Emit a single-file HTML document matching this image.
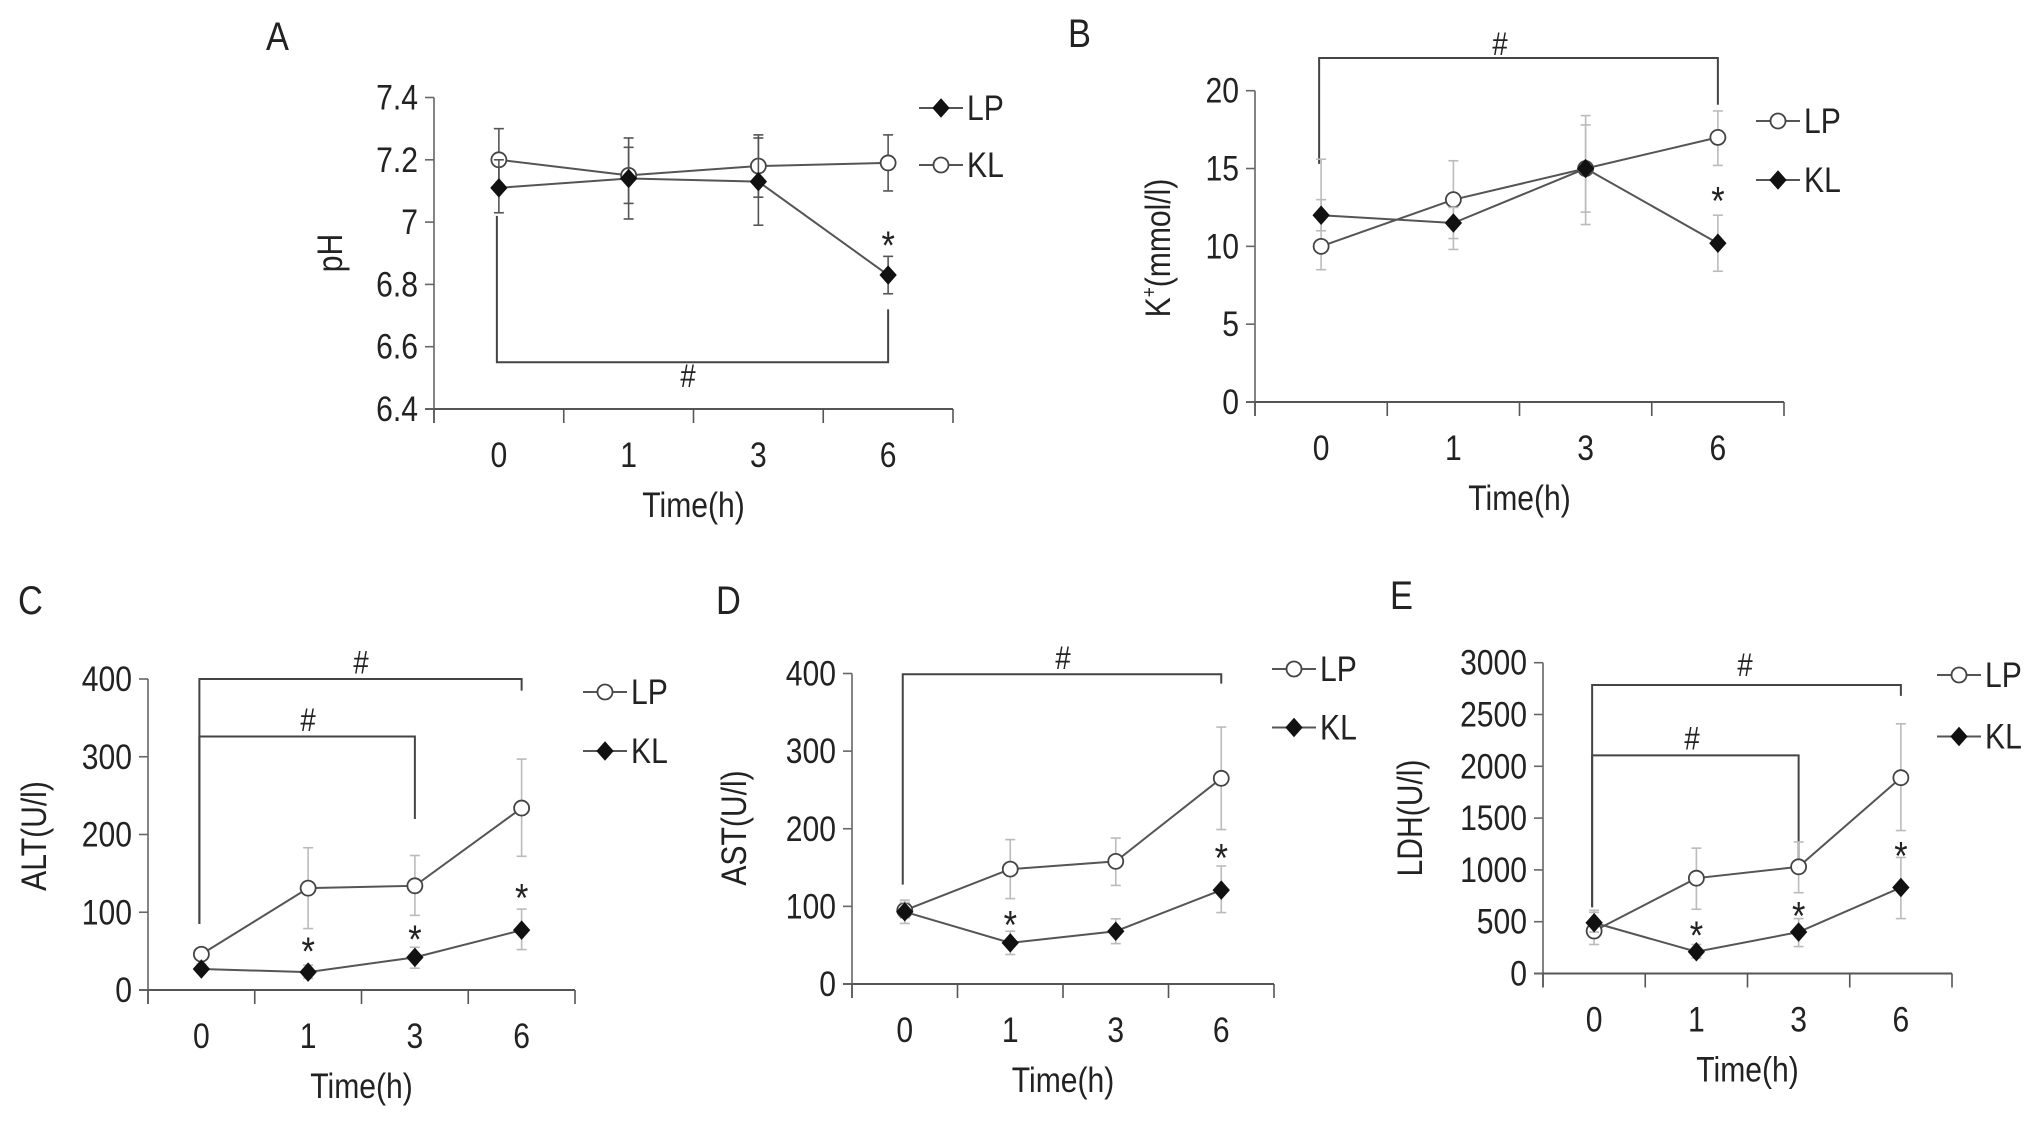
<!DOCTYPE html>
<html><head><meta charset="utf-8"><style>
html,body{margin:0;padding:0;background:#fff;}
svg{display:block;}
text{font-family:"Liberation Sans",sans-serif;fill:#222;}
</style></head><body>
<svg id="fig" width="2031" height="1122" viewBox="0 0 2031 1122" xmlns="http://www.w3.org/2000/svg"></svg>
<script>
const categories = ["0","1","3","6"];
// Panel A (pH)
const aLP = [7.11, 7.14, 7.13, 6.83];
const aLPlo = [7.03, 7.06, 7.08, 6.77];
const aLPhi = [7.20, 7.24, 7.27, 6.89];
const aKL = [7.20, 7.15, 7.18, 7.19];
const aKLlo = [7.10, 7.01, 6.99, 7.10];
const aKLhi = [7.30, 7.27, 7.28, 7.28];
const aTicks = [6.4, 6.6, 6.8, 7, 7.2, 7.4];
const aTickLabels = ["6.4","6.6","6.8","7","7.2","7.4"];
// Panel B (K+)
const bLP = [10, 13, 15, 17];
const bLPlo = [8.5, 9.8, 11.4, 15.2];
const bLPhi = [15.6, 15.5, 18.4, 18.7];
const bKL = [12, 11.5, 15, 10.2];
const bKLlo = [11, 10.5, 12.2, 8.4];
const bKLhi = [13, 12.5, 17.8, 12];
const bTicks = [0, 5, 10, 15, 20];
// Panel C (ALT)
const cLP = [46, 131, 134, 234];
const cLPlo = [40, 79, 96, 172];
const cLPhi = [52, 183, 173, 297];
const cKL = [27, 23, 42, 77];
const cKLlo = [22, 15, 28, 52];
const cKLhi = [33, 32, 55, 104];
const cTicks = [0, 100, 200, 300, 400];
// Panel D (AST)
const dLP = [95, 148, 158, 265];
const dLPlo = [85, 110, 127, 199];
const dLPhi = [108, 186, 188, 331];
const dKL = [93, 53, 68, 121];
const dKLlo = [78, 38, 52, 92];
const dKLhi = [105, 68, 84, 152];
const dTicks = [0, 100, 200, 300, 400];
// Panel E (LDH)
const eLP = [410, 920, 1030, 1890];
const eLPlo = [280, 620, 780, 1380];
const eLPhi = [610, 1210, 1270, 2410];
const eKL = [490, 210, 400, 830];
const eKLlo = [400, 150, 260, 530];
const eKLhi = [590, 280, 530, 1120];
const eTicks = [0, 500, 1000, 1500, 2000, 2500, 3000];

const NS = "http://www.w3.org/2000/svg";
const svg = document.getElementById('fig');
function mk(tag, attrs, parent){
  const e = document.createElementNS(NS, tag);
  for (const k in attrs) e.setAttribute(k, attrs[k]);
  (parent||svg).appendChild(e);
  return e;
}
function txt(parent, x, y, s, size, anchor, rot){
  const tr = rot ? `translate(${x},${y}) rotate(-90) scale(0.86,1)` : `translate(${x},${y}) scale(0.86,1)`;
  const t = mk('text', {x:0, y:0, 'font-size':size, 'text-anchor':anchor||'middle', transform:tr}, parent);
  t.textContent = s;
  return t;
}
function diamond(g, x, y){
  return mk('path', {d:`M${x},${y-9} L${x+8},${y} L${x},${y+9} L${x-8},${y} Z`, fill:'#111', stroke:'#111','stroke-width':1}, g);
}
function circ(g, x, y){
  return mk('circle', {cx:x, cy:y, r:7.5, fill:'#fff', stroke:'#444','stroke-width':1.8}, g);
}

function panel(cfg){
  const g = mk('g', {});
  
  
  const X0 = cfg.ax, X1 = cfg.xEnd, yTop = cfg.yTop, yBot = cfg.yBot;
  const ymin = cfg.ticks[0], ymax = cfg.ticks[cfg.ticks.length-1];
  const yS = v => yBot - (v - ymin) / (ymax - ymin) * (yBot - yTop);
  const step = (X1 - X0) / categories.length;
  const xS = i => X0 + (i + 0.5) * step;
  const L = txt(g, cfg.letter[0], cfg.letter[1], cfg.letter[2], 40, 'start');
  
  
  const ya = mk('line', {x1:X0, y1:yTop, x2:X0, y2:yBot+14, stroke:'#666','stroke-width':1.6}, g);
  
  
  const xa = mk('line', {x1:X0-9, y1:yBot, x2:X1, y2:yBot, stroke:'#555','stroke-width':2}, g);
  
  
  cfg.ticks.forEach((t, i) => {
    mk('line', {x1:X0-9, y1:yS(t), x2:X0, y2:yS(t), stroke:'#666','stroke-width':1.6}, g);
    const tl = txt(g, X0-16, yS(t)+12, cfg.tickLabels ? cfg.tickLabels[i] : String(t), 35, 'end');
    
    
  });
  for (let i = 0; i <= categories.length; i++) {
    mk('line', {x1:X0+i*step, y1:yBot, x2:X0+i*step, y2:yBot+14, stroke:'#555','stroke-width':1.6}, g);
  }
  categories.forEach((c, i) => {
    const tl = txt(g, xS(i), yBot+58, c, 35);
    
    
  });
  const xt = txt(g, (X0+X1)/2, yBot+108, 'Time(h)', 35);
  
  
  const yt = txt(g, cfg.ylabX, cfg.ylabY, cfg.ylabel, 35, 'middle', true);
  if (cfg.sup) { yt.textContent = ''; const a = mk('tspan', {}, yt); a.textContent='K'; const b = mk('tspan', {'font-size':20, dy:-14}, yt); b.textContent='+'; const c = mk('tspan', {dy:14}, yt); c.textContent='(mmol/l)'; }
  
  
  cfg.brackets.forEach(b => {
    const x0 = xS(0) - 2, x1 = xS(b.to);
    const p = mk('path', {d:`M${x0},${yS(b.leftEnd)} L${x0},${yS(b.level)} L${x1},${yS(b.level)} L${x1},${yS(b.rightEnd)}`, fill:'none', stroke:'#444','stroke-width':2}, g);
    
    
    const h = txt(g, b.hx, yS(b.hy), '#', 32);
    
    
  });
  const ebColor = cfg.ebColor;
  function series(vals, lo, hi, kind, name){
    const sg = mk('g', {}, g);
    
    
    vals.forEach((v, i) => {
      const x = xS(i);
      mk('line', {x1:x, y1:yS(lo[i]), x2:x, y2:yS(hi[i]), stroke:ebColor,'stroke-width':1.6}, sg);
      mk('line', {x1:x-5, y1:yS(lo[i]), x2:x+5, y2:yS(lo[i]), stroke:ebColor,'stroke-width':1.6}, sg);
      mk('line', {x1:x-5, y1:yS(hi[i]), x2:x+5, y2:yS(hi[i]), stroke:ebColor,'stroke-width':1.6}, sg);
    });
    const pts = vals.map((v, i) => `${xS(i)},${yS(v)}`).join(' ');
    mk('polyline', {points:pts, fill:'none', stroke:'#555','stroke-width':2}, sg);
    vals.forEach((v, i) => {
      const m = kind === 'd' ? diamond(sg, xS(i), yS(v)) : circ(sg, xS(i), yS(v));
      
      
    });
  }
  series(cfg.circ.v, cfg.circ.lo, cfg.circ.hi, 'c', 'series-' + cfg.circ.name);
  series(cfg.dia.v, cfg.dia.lo, cfg.dia.hi, 'd', 'series-' + cfg.dia.name);
  cfg.stars.forEach(s => {
    const st = txt(g, xS(s[0]), yS(s[1]) + 18, '*', 40);
    
    
  });
  cfg.legend.forEach(l => {
    const lg = mk('g', {}, g);
    
    
    mk('line', {x1:l.x, y1:l.y, x2:l.x+44, y2:l.y, stroke:'#555','stroke-width':2}, lg);
    if (l.kind === 'd') diamond(lg, l.x+22, l.y); else circ(lg, l.x+22, l.y);
    txt(lg, l.x+48, l.y+12, l.label, 35, 'start');
  });
}

panel({name:'panel-a-ph', ax:434, xEnd:953, yTop:97.5, yBot:409, ticks:aTicks, tickLabels:aTickLabels,
  letter:[266,50,'A'], ylabel:'pH', ylabX:342, ylabY:253, ebColor:'#555',
  circ:{v:aKL, lo:aKLlo, hi:aKLhi, name:'kl'}, dia:{v:aLP, lo:aLPlo, hi:aLPhi, name:'lp'},
  brackets:[{to:3, level:6.55, leftEnd:7.02, rightEnd:6.72, hx:688, hy:6.47}],
  stars:[[3, 6.94]],
  legend:[{x:919, y:108, kind:'d', label:'LP'},{x:919, y:165, kind:'c', label:'KL'}]});

panel({name:'panel-b-potassium', ax:1255, xEnd:1784, yTop:90.7, yBot:402, ticks:bTicks,
  letter:[1068,47,'B'], ylabel:'K+(mmol/l)', sup:true, ylabX:1170, ylabY:248, ebColor:'#bbb',
  circ:{v:bLP, lo:bLPlo, hi:bLPhi, name:'lp'}, dia:{v:bKL, lo:bKLlo, hi:bKLhi, name:'kl'},
  brackets:[{to:3, level:22.1, leftEnd:15.3, rightEnd:19.1, hx:1500, hy:22.3}],
  stars:[[3, 13.2]],
  legend:[{x:1756, y:121, kind:'c', label:'LP'},{x:1756, y:180, kind:'d', label:'KL'}]});

panel({name:'panel-c-alt', ax:148, xEnd:575, yTop:679, yBot:990, ticks:cTicks,
  letter:[18,614,'C'], ylabel:'ALT(U/l)', ylabX:46, ylabY:836, ebColor:'#bbb',
  circ:{v:cLP, lo:cLPlo, hi:cLPhi, name:'lp'}, dia:{v:cKL, lo:cKLlo, hi:cKLhi, name:'kl'},
  brackets:[{to:3, level:400, leftEnd:85, rightEnd:385, hx:361, hy:407},
            {to:2, level:326, leftEnd:85, rightEnd:220, hx:308, hy:333}],
  stars:[[1, 55],[2, 71],[3, 124]],
  legend:[{x:583, y:692, kind:'c', label:'LP'},{x:583, y:751, kind:'d', label:'KL'}]});

panel({name:'panel-d-ast', ax:852, xEnd:1274, yTop:673.5, yBot:984, ticks:dTicks,
  letter:[716,614,'D'], ylabel:'AST(U/l)', ylabX:746, ylabY:828, ebColor:'#bbb',
  circ:{v:dLP, lo:dLPlo, hi:dLPhi, name:'lp'}, dia:{v:dKL, lo:dKLlo, hi:dKLhi, name:'kl'},
  brackets:[{to:3, level:399, leftEnd:128, rightEnd:387, hx:1063, hy:406}],
  stars:[[1, 82],[3, 168]],
  legend:[{x:1272, y:669, kind:'c', label:'LP'},{x:1272, y:727.5, kind:'d', label:'KL'}]});

panel({name:'panel-e-ldh', ax:1543, xEnd:1952, yTop:662.7, yBot:973.5, ticks:eTicks,
  letter:[1390,609,'E'], ylabel:'LDH(U/l)', ylabX:1422, ylabY:818, ebColor:'#bbb',
  circ:{v:eLP, lo:eLPlo, hi:eLPhi, name:'lp'}, dia:{v:eKL, lo:eKLlo, hi:eKLhi, name:'kl'},
  brackets:[{to:3, level:2785, leftEnd:640, rightEnd:2680, hx:1745, hy:2870},
            {to:2, level:2105, leftEnd:640, rightEnd:1050, hx:1692, hy:2160}],
  stars:[[1, 410],[2, 600],[3, 1180]],
  legend:[{x:1937, y:675, kind:'c', label:'LP'},{x:1937, y:736.5, kind:'d', label:'KL'}]});
</script>
</body></html>
